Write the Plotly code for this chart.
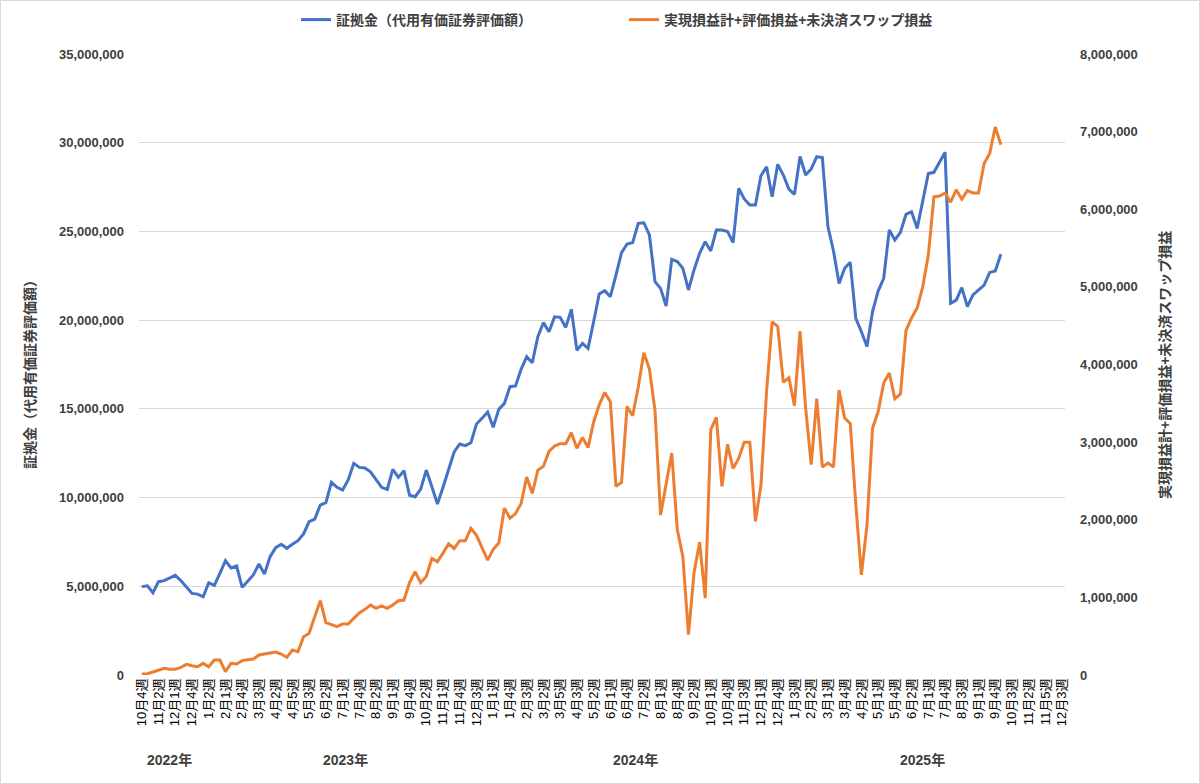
import plotly.graph_objects as go

# (year, month, first week, last week) -> weekly category axis
month_weeks = [
    (2022, 10, 4, 5), (2022, 11, 1, 4), (2022, 12, 1, 5),
    (2023, 1, 1, 4), (2023, 2, 1, 4), (2023, 3, 1, 4), (2023, 4, 1, 5), (2023, 5, 1, 4), (2023, 6, 1, 4),
    (2023, 7, 1, 5), (2023, 8, 1, 4), (2023, 9, 1, 5), (2023, 10, 1, 4), (2023, 11, 1, 4), (2023, 12, 1, 5),
    (2024, 1, 1, 4), (2024, 2, 1, 4), (2024, 3, 1, 5), (2024, 4, 1, 4), (2024, 5, 1, 4), (2024, 6, 1, 5),
    (2024, 7, 1, 4), (2024, 8, 1, 5), (2024, 9, 1, 4), (2024, 10, 1, 4), (2024, 11, 1, 5), (2024, 12, 1, 4),
    (2025, 1, 1, 4), (2025, 2, 1, 4), (2025, 3, 1, 5), (2025, 4, 1, 4), (2025, 5, 1, 5), (2025, 6, 1, 4),
    (2025, 7, 1, 4), (2025, 8, 1, 5), (2025, 9, 1, 4), (2025, 10, 1, 4), (2025, 11, 1, 5), (2025, 12, 1, 3),
]
year_labels = ["2022年", "2023年", "2024年", "2025年"]

margin_values = [
    4980000, 5030000, 4640000, 5260000, 5320000, 5450000, 5620000, 5320000, 4980000, 4600000,
    4560000, 4410000, 5200000, 5050000, 5730000, 6440000, 6030000, 6140000, 4940000, 5260000,
    5640000, 6260000, 5690000, 6670000, 7180000, 7370000, 7140000, 7370000, 7570000, 7950000,
    8640000, 8790000, 9580000, 9710000, 10860000, 10580000, 10430000, 10990000, 11930000, 11700000,
    11670000, 11450000, 10980000, 10580000, 10460000, 11590000, 11140000, 11520000, 10130000, 10050000,
    10480000, 11550000, 10610000, 9640000, 10580000, 11590000, 12570000, 13020000, 12930000, 13090000,
    14150000, 14470000, 14820000, 13960000, 14970000, 15310000, 16250000, 16290000, 17230000, 17940000,
    17600000, 19070000, 19860000, 19350000, 20190000, 20160000, 19590000, 20610000, 18300000, 18690000,
    18410000, 19910000, 21470000, 21660000, 21320000, 22540000, 23800000, 24290000, 24370000, 25460000,
    25490000, 24800000, 22170000, 21790000, 20800000, 23430000, 23300000, 22920000, 21700000, 22830000,
    23770000, 24420000, 23900000, 25080000, 25080000, 25000000, 24370000, 27430000, 26830000, 26490000,
    26490000, 28140000, 28650000, 26960000, 28780000, 28180000, 27390000, 27090000, 29220000, 28180000,
    28520000, 29210000, 29160000, 25270000, 23900000, 22070000, 22920000, 23260000, 20100000, 19350000,
    18510000, 20480000, 21640000, 22360000, 25080000, 24520000, 24950000, 25960000, 26110000, 25170000,
    26770000, 28270000, 28330000, 28930000, 29460000, 20950000, 21130000, 21830000, 20760000, 21420000,
    21700000, 21980000, 22690000, 22770000, 23710000,
]

pnl_values = [
    13000, 17000, 39000, 64000, 86000, 73000, 73000, 99000, 137000, 120000,
    107000, 150000, 107000, 193000, 193000, 43000, 150000, 142000, 185000, 196000,
    206000, 258000, 270000, 283000, 296000, 270000, 228000, 322000, 300000, 494000,
    537000, 750000, 957000, 674000, 648000, 622000, 657000, 657000, 730000, 800000,
    846000, 902000, 859000, 889000, 859000, 902000, 957000, 966000, 1190000, 1330000,
    1190000, 1270000, 1500000, 1460000, 1570000, 1690000, 1630000, 1730000, 1730000, 1890000,
    1800000, 1650000, 1480000, 1620000, 1700000, 2150000, 2020000, 2080000, 2210000, 2550000,
    2340000, 2640000, 2690000, 2880000, 2950000, 2980000, 2980000, 3120000, 2920000, 3060000,
    2930000, 3260000, 3480000, 3640000, 3520000, 2430000, 2480000, 3460000, 3340000, 3710000,
    4150000, 3940000, 3410000, 2060000, 2470000, 2860000, 1870000, 1520000, 520000, 1320000,
    1710000, 990000, 3160000, 3320000, 2430000, 2970000, 2660000, 2790000, 3000000, 3000000,
    1980000, 2450000, 3650000, 4550000, 4490000, 3770000, 3830000, 3470000, 4430000, 3440000,
    2710000, 3560000, 2680000, 2730000, 2680000, 3670000, 3310000, 3240000, 2200000, 1290000,
    1930000, 3180000, 3390000, 3760000, 3890000, 3560000, 3620000, 4440000, 4600000, 4730000,
    5000000, 5410000, 6160000, 6170000, 6210000, 6090000, 6250000, 6130000, 6240000, 6210000,
    6210000, 6590000, 6720000, 7060000, 6830000,
]

series_names = ["証拠金（代用有価証券評価額）", "実現損益計+評価損益+未決済スワップ損益"]
left_title = "証拠金（代用有価証券評価額）"
right_title = "実現損益計+評価損益+未決済スワップ損益"

# build category table
categories, week_labels, cat_years = [], [], []
for y, m, w0, w1 in month_weeks:
    for w in range(w0, w1 + 1):
        categories.append(f"{y}年{m}月{w}週")
        week_labels.append(f"{m}月{w}週")
        cat_years.append(f"{y}年")
n_cat = len(categories)

FONT = "Liberation Sans, Noto Sans CJK JP, sans-serif"
TXT = "#404040"

fig = go.Figure()
fig.add_trace(go.Scatter(
    x=categories[:len(margin_values)], y=margin_values, name=series_names[0],
    mode="lines", line=dict(color="#4472C4", width=3)))
fig.add_trace(go.Scatter(
    x=categories[:len(pnl_values)], y=pnl_values, name=series_names[1], yaxis="y2",
    mode="lines", line=dict(color="#ED7D31", width=3)))

L, R, T, B = 139, 135, 54, 109
W, H = 1200, 784
pw, ph = W - L - R, H - T - B

fig.update_layout(
    width=W, height=H,
    margin=dict(l=L, r=R, t=T, b=B, autoexpand=False),
    paper_bgcolor="white", plot_bgcolor="white",
    font=dict(family=FONT, color=TXT, size=13),
    showlegend=True,
    legend=dict(orientation="h", x=(296 - L) / pw, xanchor="left", y=(T + ph - 20) / ph, yanchor="middle",
                entrywidth=283, entrywidthmode="pixels", font=dict(size=14, color=TXT, weight="bold"),
                bgcolor="rgba(0,0,0,0)"),
    xaxis=dict(type="category", categoryorder="array", categoryarray=categories,
               range=[-0.5, n_cat - 0.5], tickvals=categories[::3], ticktext=week_labels[::3],
               tickangle=-90, showgrid=False, zeroline=False, showline=False, ticks="",
               tickfont=dict(size=13, color="#000000"), automargin=False),
    yaxis=dict(range=[0, 35000000], dtick=5000000, tickformat=",", showgrid=True, gridcolor="#d9d9d9",
               gridwidth=1, zeroline=False, showline=False, ticks="", ticklabelstandoff=14,
               tickfont=dict(size=13, color=TXT, weight="bold"), automargin=False),
    yaxis2=dict(range=[0, 8000000], dtick=1000000, tickformat=",", overlaying="y", side="right",
                showgrid=False, zeroline=False, showline=False, ticks="", ticklabelstandoff=14,
                tickfont=dict(size=13, color=TXT, weight="bold"), automargin=False),
)

# axis titles
fig.add_annotation(text=left_title, xref="paper", yref="paper", x=(30 - L) / pw, y=(T + ph - 371) / ph,
                   textangle=-90, showarrow=False, font=dict(size=14, color=TXT, weight="bold"),
                   xanchor="center", yanchor="middle")
fig.add_annotation(text=right_title, xref="paper", yref="paper", x=(1165 - L) / pw, y=(T + ph - 365) / ph,
                   textangle=-90, showarrow=False, font=dict(size=14, color=TXT, weight="bold"),
                   xanchor="center", yanchor="middle")

# year group labels under the week labels
for yl in year_labels:
    idx = [i for i, c in enumerate(cat_years) if c == yl]
    fig.add_annotation(text=yl, xref="x", yref="paper", x=(idx[0] + idx[-1]) / 2, y=(T + ph - 760) / ph,
                       showarrow=False, font=dict(size=14, color=TXT, weight="bold"),
                       xanchor="center", yanchor="middle")

# chart border
fig.add_shape(type="rect", xref="paper", yref="paper",
              x0=(0.5 - L) / pw, x1=(W - 0.5 - L) / pw, y0=(T + ph - (H - 0.5)) / ph, y1=(T + ph - 0.5) / ph,
              line=dict(color="#d9d9d9", width=1), fillcolor="rgba(0,0,0,0)", layer="below")

fig.write_html("out.html")
